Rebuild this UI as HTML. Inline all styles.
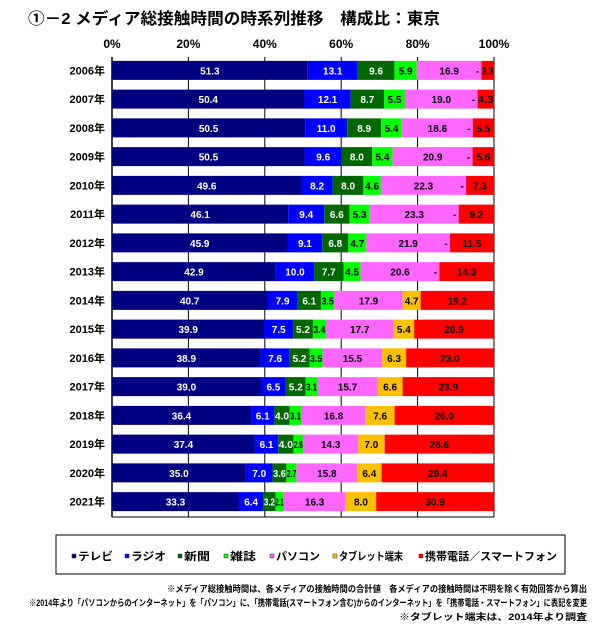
<!DOCTYPE html>
<html><head><meta charset="utf-8">
<style>
body{margin:0;background:#fff;width:600px;height:631px;overflow:hidden;font-family:"Liberation Sans","Noto Sans CJK JP",sans-serif;}
svg{display:block}
</style></head>
<body>
<svg id="chart" width="600" height="631" xmlns="http://www.w3.org/2000/svg">
<text x="28" y="24" font-size="16" font-weight="bold" fill="#000" textLength="412" lengthAdjust="spacingAndGlyphs" font-family="Liberation Sans, Noto Sans CJK JP, sans-serif">①－2  メディア総接触時間の時系列推移　構成比：東京</text>
<g id="grid"></g>
<g id="bars"></g>
<g id="labels"></g>
<rect x="56" y="535" width="509" height="39" fill="#fff" stroke="#000" stroke-width="1"/>
<g id="legend"></g>
<g font-size="9" font-weight="bold" text-anchor="end" fill="#000" font-family="Liberation Sans, Noto Sans CJK JP, sans-serif">
<text x="587" y="592" textLength="420" lengthAdjust="spacingAndGlyphs">※メディア総接触時間は、各メディアの接触時間の合計値　各メディアの接触時間は不明を除く有効回答から算出</text>
<text x="587" y="606" textLength="558" lengthAdjust="spacingAndGlyphs">※2014年より「パソコンからのインターネット」を「パソコン」に、「携帯電話(スマートフォン含む)からのインターネット」を「携帯電話・スマートフォン」に表記を変更</text>
<text x="587" y="620" textLength="188" lengthAdjust="spacingAndGlyphs">※タブレット端末は、2014年より調査</text>
</g>
</svg>
<script>
const years=["2006年","2007年","2008年","2009年","2010年","2011年","2012年","2013年","2014年","2015年","2016年","2017年","2018年","2019年","2020年","2021年"];
const tv=[51.3,50.4,50.5,50.5,49.6,46.1,45.9,42.9,40.7,39.9,38.9,39.0,36.4,37.4,35.0,33.3];
const radio=[13.1,12.1,11.0,9.6,8.2,9.4,9.1,10.0,7.9,7.5,7.6,6.5,6.1,6.1,7.0,6.4];
const newspaper=[9.6,8.7,8.9,8.0,8.0,6.6,6.8,7.7,6.1,5.2,5.2,5.2,4.0,4.0,3.6,3.2];
const magazine=[5.9,5.5,5.4,5.4,4.6,5.3,4.7,4.5,3.5,3.4,3.5,3.1,3.1,2.6,2.7,2.1];
const pc=[16.9,19.0,18.6,20.9,22.3,23.3,21.9,20.6,17.9,17.7,15.5,15.7,16.8,14.3,15.8,16.3];
const tablet=[null,null,null,null,null,null,null,null,4.7,5.4,6.3,6.6,7.6,7.0,6.4,8.0];
const mobile=[3.3,4.3,5.5,5.6,7.3,9.2,11.5,14.3,19.2,20.9,23.0,23.9,26.0,28.6,29.4,30.9];
const seriesNames=["テレビ","ラジオ","新聞","雑誌","パソコン","タブレット端末","携帯電話／スマートフォン"];
const xTicks=["0%","20%","40%","60%","80%","100%"];
const series=[tv,radio,newspaper,magazine,pc,tablet,mobile];
const colors=["#000080","#0000ff","#006600","#00ff00","#ff66ff","#ffc000","#ff0000"];
const textCol=["#fff","#fff","#fff","#000","#000","#000","#000"];
const keys=["tv","radio","newspaper","magazine","pc","tablet","mobile"];
const NS="http://www.w3.org/2000/svg";
const X0=112,X1=494,Y0=57,Y1=517,STEP=(Y1-Y0)/years.length,BH=19;
const xs=p=>X0+(X1-X0)*p/100;
const yc=i=>Y0+STEP*(i+0.5)-1;
function mk(t,a,parent){const e=document.createElementNS(NS,t);for(const k in a)e.setAttribute(k,a[k]);parent.appendChild(e);return e;}
const F="Liberation Sans, Noto Sans CJK JP, sans-serif";
const grid=document.getElementById('grid'),bars=document.getElementById('bars'),labels=document.getElementById('labels'),legend=document.getElementById('legend');
xTicks.forEach((t,k)=>{
  const p=k*20;
  const l=mk('line',{x1:xs(p),x2:xs(p),y1:Y0,y2:Y1,stroke:"#000","stroke-width":k==0?1.5:1},grid);
  
  
  const tx=mk('text',{x:xs(p),y:48,"text-anchor":"middle","font-size":12,"font-weight":"bold","font-family":F},grid);
  tx.textContent=t;
  
  
});
const ax=mk('line',{x1:X0,x2:X1,y1:Y1,y2:Y1,stroke:"#000"},grid);


years.forEach((y,i)=>{
  const ty=mk('text',{x:105,y:yc(i)+4,"text-anchor":"end","font-size":11,"font-weight":"bold","font-family":F},labels);
  ty.textContent=y;
  
  
  let tot=0;series.forEach(s=>{tot+=s[i]||0;});
  let cum=0;
  series.forEach((s,j)=>{
    const v=s[i];
    if(v==null){
      const d=mk('text',{x:xs(cum/tot*100)-4,y:yc(i)+4,"font-size":10,"font-weight":"bold","text-anchor":"middle","font-family":F},labels);
      d.textContent="-";
      
      
      return;
    }
    const xa=xs(cum/tot*100),xb=xs((cum+v)/tot*100);
    const r=mk('rect',{x:xa,y:yc(i)-BH/2,width:xb-xa,height:BH,fill:colors[j]},bars);
    
    
    const t=mk('text',{x:(xa+xb)/2,y:yc(i)+4,"text-anchor":"middle","font-size":10,"font-weight":"bold",fill:textCol[j],"font-family":F},labels);
    t.textContent=v.toFixed(1);
    if(v<4.5){t.setAttribute('textLength',Math.max(8,(xb-xa)-1));t.setAttribute('lengthAdjust','spacingAndGlyphs');}
    
    
    cum+=v;
  });
});
const lx=[72,125,178,224,270,333,419];
const lw=[35,35,26,26,44,64,132];
seriesNames.forEach((n,j)=>{
  const g=mk('g',{},legend);
  
  
  mk('rect',{x:lx[j],y:554,width:4,height:4,fill:colors[j],stroke:"#333","stroke-width":0.5},g);
  const t=mk('text',{x:lx[j]+6,y:560,"font-size":11,"font-weight":"bold","font-family":F,textLength:lw[j],lengthAdjust:"spacingAndGlyphs"},g);
  t.textContent=n;
});
</script>
</body></html>
